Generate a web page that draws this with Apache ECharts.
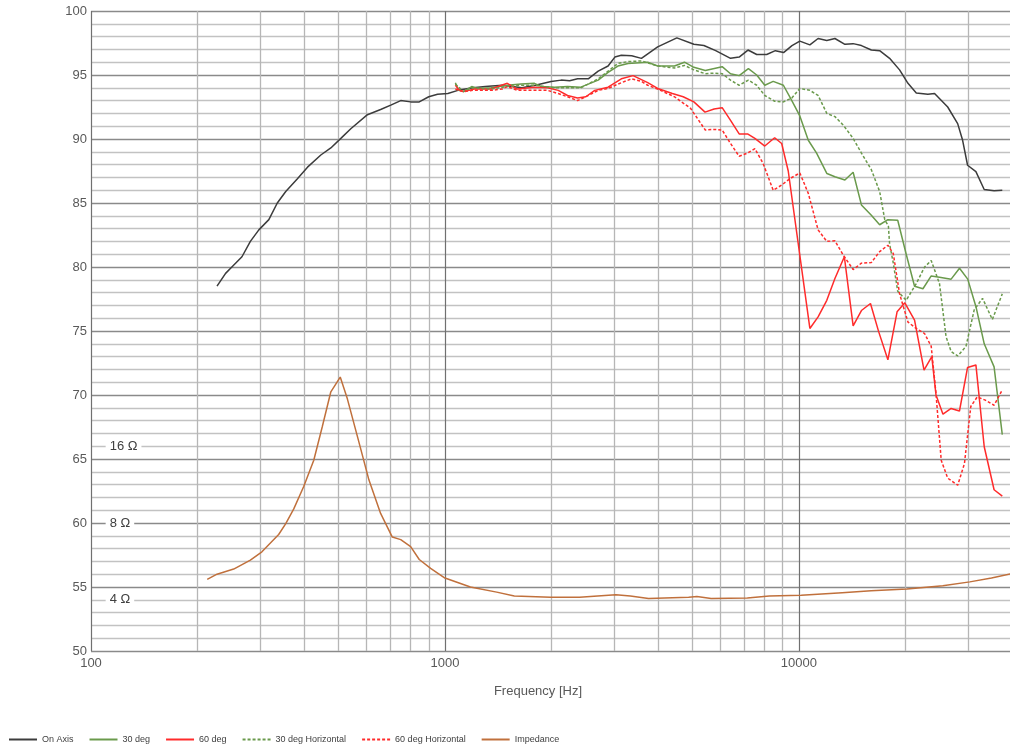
<!DOCTYPE html>
<html>
<head>
<meta charset="utf-8">
<script src="https://cdn.jsdelivr.net/npm/echarts@6/dist/echarts.min.js"></script>
<style>
html,body{margin:0;padding:0;background:#fff;overflow:hidden;}
#chart{width:1010px;height:749px;}
</style>
</head>
<body>
<div id="chart"></div>
<script>
// ---------- DATA ----------
const onAxisFreq = [227,240,250,267,282,298,318,336,355,383,409,446,476,508,542,604,658,703,750,800,846,900,953,1019,1088,1200,1300,1450,1550,1650,1800,1995,2130,2250,2370,2540,2710,2890,3020,3150,3370,3590,3990,4520,5050,5390,5820,6410,6780,7180,7600,8110,8580,9050,9560,10060,10740,11330,11990,12640,13490,14230,15020,16020,16910,18040,19250,20330,21460,23140,24170,26330,28090,29010,29960,31630,33380,35600,37550];
const onAxisSpl = [78.5,79.5,80.0,80.8,82.0,82.9,83.7,85.0,85.9,86.9,87.8,88.75,89.3,90.05,90.8,91.9,92.3,92.65,93.0,92.9,92.9,93.3,93.5,93.55,93.8,94.0,94.1,94.2,94.1,94.0,94.2,94.5,94.6,94.55,94.7,94.7,95.3,95.7,96.4,96.55,96.5,96.3,97.2,97.9,97.4,97.3,96.9,96.3,96.4,96.95,96.6,96.6,96.9,96.75,97.3,97.65,97.35,97.85,97.7,97.85,97.4,97.45,97.3,96.95,96.9,96.3,95.4,94.35,93.6,93.5,93.55,92.5,91.2,89.9,87.95,87.45,86.05,85.95,86.0];

const deg30Freq = [1070,1093,1128,1190,1235,1350,1500,1640,1790,1870,2040,2220,2420,2710,2890,3080,3290,3740,3990,4450,4750,5050,5440,6070,6410,6780,7200,7600,8010,8460,9040,9550,10060,10630,11220,12000,12640,13490,14230,15020,16020,16910,17840,19020,20100,21220,22410,23650,24960,26920,28430,29990,31640,33390,35600,37550];
const deg30Spl = [94.4,93.8,93.7,94.1,93.95,94.0,94.2,94.3,94.35,94.1,94.05,94.1,94.05,94.6,95.2,95.7,95.9,96.0,95.7,95.7,96.0,95.6,95.35,95.65,95.1,94.95,95.5,95.0,94.2,94.5,94.2,93.0,91.8,89.9,88.9,87.3,87.05,86.8,87.4,84.85,84.05,83.3,83.7,83.65,81.0,78.5,78.3,79.3,79.2,79.05,79.9,79.05,76.9,74.0,72.2,66.9];

const deg60Freq = [1070,1100,1130,1210,1350,1500,1600,1790,1950,2090,2220,2370,2500,2650,2890,3150,3400,3740,3990,4390,4710,5050,5430,5760,6070,6410,6780,7160,7510,8010,8540,8940,9330,10740,11330,11990,12640,13440,14230,15020,15930,16800,17840,18940,19920,21220,22570,23740,24400,25530,26920,28420,29960,31630,33390,35600,37550];
const deg60Spl = [94.2,93.8,93.7,93.9,93.9,94.35,93.9,94.05,94.0,93.8,93.4,93.2,93.3,93.8,94.05,94.7,94.95,94.4,93.95,93.55,93.3,92.9,92.1,92.35,92.45,91.45,90.4,90.4,90.05,89.45,90.1,89.65,87.5,75.2,76.1,77.4,79.1,80.8,75.4,76.6,77.15,74.95,72.75,76.5,77.2,75.85,71.95,73.0,70.0,68.5,68.95,68.75,72.15,72.35,65.96,62.6,62.1];

const deg30HFreq = [1070,1128,1190,1350,1500,1640,1790,2040,2220,2420,2710,2890,3080,3290,3590,3990,4450,4750,5050,5440,5760,6070,6410,6780,7200,7600,8010,8540,9040,9550,10060,10740,11330,11990,12640,13330,14230,15020,16020,16910,17480,17900,18040,18480,19020,20100,21460,22650,23650,24960,26050,26920,28100,29650,31280,33020,35200,37550];
const deg30HSpl = [94.3,93.7,94.0,93.9,94.1,94.2,94.2,94.0,94.0,94.0,94.7,95.3,95.9,96.05,96.1,95.7,95.55,95.75,95.4,95.1,95.15,95.1,94.6,94.2,94.6,94.2,93.4,92.95,92.9,93.2,93.95,93.8,93.4,92.0,91.75,91.1,90.05,88.9,87.6,85.9,83.7,83.2,81.8,80.3,78.1,77.4,78.7,80.0,80.5,78.7,74.55,73.4,73.05,73.8,76.65,77.55,75.9,77.9];

const deg60HFreq = [1070,1130,1200,1350,1450,1500,1600,1800,1950,2090,2220,2370,2500,2710,2890,3150,3370,3590,3740,3990,4450,4940,5440,5760,6070,6410,6780,7160,7510,7920,8460,8940,9430,10060,10630,11330,11990,12640,13330,14230,15020,16020,16910,17840,18480,19250,20330,21460,22650,23650,24400,25240,26330,28100,29360,30590,31900,33620,35600,37550];
const deg60HSpl = [93.9,93.7,93.8,93.8,93.9,94.1,93.8,93.8,93.8,93.55,93.3,93.0,93.3,93.8,93.95,94.4,94.7,94.5,94.2,93.9,93.3,92.4,90.7,90.75,90.7,89.65,88.65,88.9,89.25,88.1,86.0,86.4,86.9,87.35,85.75,82.9,82.0,82.05,80.95,79.8,80.3,80.35,81.2,81.7,81.05,77.9,75.7,75.2,74.8,73.8,70.1,64.9,63.5,62.95,64.65,69.1,69.85,69.6,69.2,70.4];

const impFreq = [213,227,253,282,304,339,355,374,399,426,450,476,506,530,566,610,658,710,750,800,846,911,1000,1180,1400,1570,1990,2400,2700,3040,3340,3760,4880,5150,5650,7150,8250,10150,13250,16000,20200,25500,30400,35000,40000];
const impVal = [55.6,56.0,56.4,57.1,57.75,59.1,59.95,61.1,62.85,64.9,67.5,70.25,71.4,69.7,66.75,63.35,60.75,58.9,58.7,58.15,57.15,56.45,55.7,55.0,54.6,54.3,54.2,54.2,54.3,54.4,54.3,54.1,54.2,54.25,54.1,54.15,54.3,54.35,54.55,54.7,54.85,55.1,55.4,55.7,56.05];

const seriesNames = ['On Axis','30 deg','60 deg','30 deg Horizontal','60 deg Horizontal','Impedance'];
const xTickLabels = [100, 1000, 10000];
const minorFreqs = [200,300,400,500,600,700,800,900,2000,3000,4000,5000,6000,7000,8000,9000,20000,30000];
const impLabelText = ['16 Ω','8 Ω','4 Ω'];
const impLabelDb = [66, 60, 54];
const impLabelFreq = 110;

// ---------- BUILD ----------
function zip(f, v){ return f.map((x,i)=>[x, v[i]]); }
const FONT = 'Liberation Sans';

function lineSeries(name, f, v, color, dashed){
  return {
    name, type:'line', data: zip(f, v), symbol:'none', showSymbol:false, smooth:false, z:5,
    lineStyle:{color, width:1.5, type: dashed ? [3,2] : 'solid'},
    itemStyle:{color}
  };
}

const chart = echarts.init(document.getElementById('chart'), null, {renderer:'canvas', width:1010, height:749});
chart.setOption({
  animation:false,
  backgroundColor:'#fff',
  grid:{left:91, right:-2, top:11, bottom:98, containLabel:false, outerBoundsMode:'none'},
  legend:{
    data: seriesNames,
    left: 3, top: 730,
    itemWidth: 28, itemHeight: 10, itemGap: 15,
    itemStyle:{opacity:0},
    textStyle:{fontFamily:FONT, fontSize:9, color:'#404040'}
  },
  xAxis:{
    type:'log', logBase:10, min:100, max:40000,
    name:'Frequency [Hz]', nameLocation:'middle', nameGap:34,
    nameTextStyle:{fontFamily:FONT, fontSize:13, color:'#595959', padding:[0,27,0,0]},
    axisLine:{show:false}, axisTick:{show:false},
    axisLabel:{
      fontFamily:FONT, fontSize:13, color:'#595959', margin:6,
      formatter: v => xTickLabels.some(t => Math.abs(t - v) / t < 1e-6) ? String(Math.round(v)) : ''
    },
    splitLine:{show:true, lineStyle:{color:'#707070', width:1.2}}
  },
  yAxis:{
    type:'value', min:50, max:100, interval:5,
    axisLine:{show:false}, axisTick:{show:false},
    axisLabel:{fontFamily:FONT, fontSize:13, color:'#595959', margin:4},
    splitLine:{show:true, lineStyle:{color:'#8a8a8a', width:1.3}},
    minorTick:{show:false, splitNumber:5},
    minorSplitLine:{show:true, lineStyle:{color:'#c2c2c2', width:1.3}}
  },
  series:[
    {
      name:'grid', type:'line', data:[], z:1, silent:true,
      markLine:{
        silent:true, symbol:['none','none'], animation:false,
        label:{show:false},
        lineStyle:{color:'#b6b6b6', width:1.3, type:'solid'},
        data: minorFreqs.map(f => ({xAxis:f}))
      },
      markPoint:{
        silent:true, symbol:'rect', symbolSize:0, animation:false,
        label:{
          show:true, position:'right', distance:0,
          fontFamily:FONT, fontSize:13, color:'#404040',
          backgroundColor:'#ffffff', padding:[1,4,1,4],
          formatter: p => p.name
        },
        data: impLabelText.map((t,i) => ({name:t, coord:[impLabelFreq, impLabelDb[i]]}))
      }
    },
    lineSeries('On Axis', onAxisFreq, onAxisSpl, '#3c3c3c', false),
    lineSeries('30 deg', deg30Freq, deg30Spl, '#6a9a4c', false),
    lineSeries('60 deg', deg60Freq, deg60Spl, '#ff2b2b', false),
    lineSeries('30 deg Horizontal', deg30HFreq, deg30HSpl, '#6a9a4c', true),
    lineSeries('60 deg Horizontal', deg60HFreq, deg60HSpl, '#ff2b2b', true),
    lineSeries('Impedance', impFreq, impVal, '#c0703c', false)
  ]
});
</script>
</body>
</html>
